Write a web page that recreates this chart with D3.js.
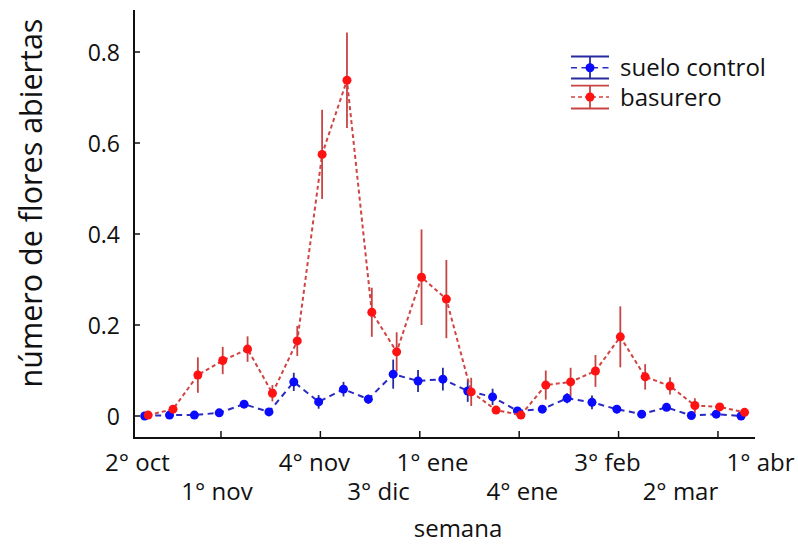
<!DOCTYPE html>
<html>
<head>
<meta charset="utf-8">
<script src="https://cdn.jsdelivr.net/npm/d3@7"></script>
<style>
  html, body { margin: 0; padding: 0; background: #fff; }
  svg { display: block; }
  text { font-family: "Open Sans", "Noto Sans", sans-serif; fill: #111; }
</style>
</head>
<body>
<svg id="chart" width="798" height="546"></svg>
<script>
// ---- data ----
const weeks = [0,1,2,3,4,5,6,7,8,9,10,11,12,13,14,15,16,17,18,19,20,21,22,23,24];
const sueloControl = [0.000,0.002,0.002,0.007,0.026,0.009,0.075,0.031,0.059,0.037,0.092,0.077,0.081,0.055,0.042,0.011,0.015,0.039,0.030,0.015,0.004,0.019,0.001,0.004,0.000];
const sueloControlErr = [0.003,0.004,0.004,0.005,0.006,0.005,0.020,0.015,0.016,0.010,0.032,0.024,0.025,0.024,0.018,0.005,0.005,0.011,0.015,0.009,0.004,0.008,0.004,0.005,0.004];
const basurero = [0.002,0.015,0.090,0.122,0.147,0.050,0.165,0.575,0.738,0.228,0.141,0.305,0.257,0.053,0.013,0.002,0.068,0.075,0.099,0.174,0.086,0.066,0.023,0.020,0.008];
const basureroErr = [0.004,0.006,0.039,0.030,0.028,0.018,0.033,0.098,0.105,0.054,0.043,0.105,0.086,0.031,0.005,0.004,0.032,0.031,0.035,0.067,0.028,0.019,0.016,0.008,0.005];
const seriesNames = ["suelo control", "basurero"];
const yTicks = [0, 0.2, 0.4, 0.6, 0.8];
const xTicks = [3, 7, 11, 15, 19, 23];
const xLabels = ["2° oct","1° nov","4° nov","3° dic","1° ene","4° ene","3° feb","2° mar","1° abr"];
const xLabelWeek = [-0.36, 2.84, 6.76, 9.34, 11.51, 15.13, 18.55, 21.49, 24.71];
const xLabelRow = [0, 1, 0, 1, 0, 1, 0, 1, 0];

// ---- layout ----
const svg = d3.select("#chart");
const x = d3.scaleLinear().domain([-0.5, 24.5]).range([134, 755.25]);
const y = d3.scaleLinear().domain([0, 0.8]).range([416, 52]);
const yTop = 10, yBottom = 438;

const styles = [
  { dot: "#0a0aff", line: "#2a2ac0", err: "#2a2aa0", dash: "6,4.5", off: -0.07 },
  { dot: "#ff1212", line: "#d04444", err: "#c84444", dash: "4,3", off: 0.07 }
];
const data = [
  { name: seriesNames[0], v: sueloControl, e: sueloControlErr },
  { name: seriesNames[1], v: basurero, e: basureroErr }
];

// axes
const axG = svg.append("g");
axG.append("line").attr("x1", 134).attr("x2", 134).attr("y1", yTop).attr("y2", yBottom + 1)
  .attr("stroke", "#111").attr("stroke-width", 2);
axG.append("line").attr("x1", 133).attr("x2", 755).attr("y1", yBottom).attr("y2", yBottom)
  .attr("stroke", "#111").attr("stroke-width", 2);

const yAxis = d3.axisLeft(y).tickValues(yTicks).tickSize(0).tickPadding(0)
  .tickFormat(d => d === 0 ? "0" : d3.format(".1f")(d));
const yg = svg.append("g").attr("transform", "translate(120,0)").call(yAxis);
yg.select(".domain").remove();
yg.selectAll("text").style("font-size", "23px").attr("fill", "#111").attr("dy", "0.36em");
// inward y ticks
svg.append("g").selectAll("line").data(yTicks).join("line")
  .attr("x1", 134).attr("x2", 140).attr("y1", d => y(d)).attr("y2", d => y(d))
  .attr("stroke", "#111").attr("stroke-width", 1.5);
// inward x ticks
svg.append("g").selectAll("line").data(xTicks).join("line")
  .attr("x1", d => x(d)).attr("x2", d => x(d)).attr("y1", yBottom).attr("y2", yBottom - 7)
  .attr("stroke", "#111").attr("stroke-width", 1.5);
// x labels
svg.append("g").selectAll("text").data(xLabels).join("text")
  .attr("x", (d, i) => x(xLabelWeek[i]))
  .attr("y", (d, i) => xLabelRow[i] === 0 ? 471 : 500)
  .attr("text-anchor", "middle").style("font-size", "24px").text(d => d);

// axis titles
svg.append("text").attr("x", 458).attr("y", 537).attr("text-anchor", "middle")
  .style("font-size", "24px").text("semana");
svg.append("text").attr("transform", "translate(42,203) rotate(-90)")
  .attr("text-anchor", "middle").style("font-size", "30.5px").text("número de flores abiertas");

// series
data.forEach((s, si) => {
  const st = styles[si];
  const g = svg.append("g");
  const pts = weeks.map((w, i) => ({ w: w + st.off, v: s.v[i], e: s.e[i] }));
  g.append("path").datum(pts)
    .attr("d", d3.line().x(d => x(d.w)).y(d => y(d.v)))
    .attr("fill", "none").attr("stroke", st.line).attr("stroke-width", 2)
    .attr("stroke-dasharray", st.dash);
  g.selectAll("line.err").data(pts).join("line").attr("class", "err")
    .attr("x1", d => x(d.w)).attr("x2", d => x(d.w))
    .attr("y1", d => y(d.v - d.e)).attr("y2", d => y(d.v + d.e))
    .attr("stroke", st.err).attr("stroke-width", 1.8);
  g.selectAll("circle").data(pts).join("circle")
    .attr("cx", d => x(d.w)).attr("cy", d => y(d.v)).attr("r", 4.5)
    .attr("fill", st.dot);
});

// legend
const leg = svg.append("g");
const legRows = [{ cy: 67.7, top: 56.5, bot: 78.5, ty: 76 }, { cy: 97, top: 85.7, bot: 108.5, ty: 106 }];
data.forEach((s, si) => {
  const st = styles[si], r = legRows[si];
  leg.append("line").attr("x1", 571).attr("x2", 609).attr("y1", r.top).attr("y2", r.top)
    .attr("stroke", st.err).attr("stroke-width", 1.8);
  leg.append("line").attr("x1", 571).attr("x2", 609).attr("y1", r.bot).attr("y2", r.bot)
    .attr("stroke", st.err).attr("stroke-width", 1.8);
  leg.append("line").attr("x1", 590).attr("x2", 590).attr("y1", r.top).attr("y2", r.bot)
    .attr("stroke", st.err).attr("stroke-width", 1.8);
  leg.append("line").attr("x1", 571).attr("x2", 609).attr("y1", r.cy).attr("y2", r.cy)
    .attr("stroke", st.line).attr("stroke-width", 1.5).attr("stroke-dasharray", st.dash);
  leg.append("circle").attr("cx", 590).attr("cy", r.cy).attr("r", 4.5).attr("fill", st.dot);
  leg.append("text").attr("x", 620).attr("y", r.ty).style("font-size", "24px").text(s.name);
});
</script>
</body>
</html>
